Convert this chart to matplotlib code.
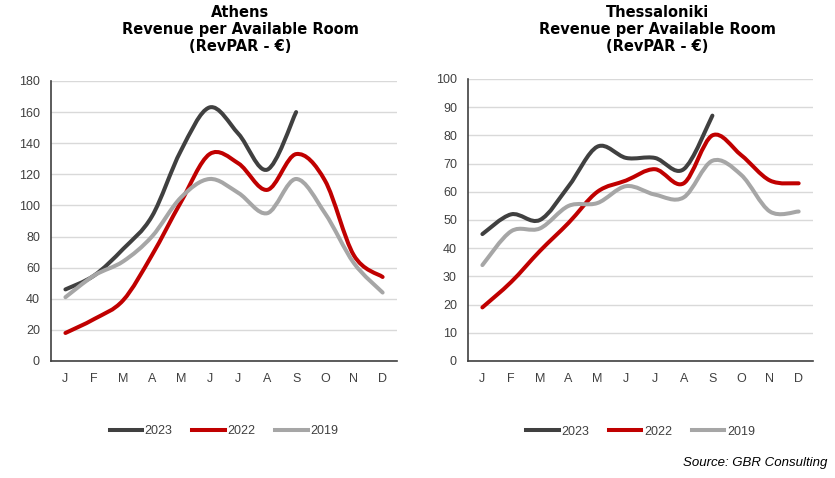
import numpy as np
import matplotlib.pyplot as plt
from matplotlib.path import Path
from matplotlib.patches import PathPatch
from matplotlib.lines import Line2D

months = ["J", "F", "M", "A", "M", "J", "J", "A", "S", "O", "N", "D"]
years = ["2023", "2022", "2019"]
colors = {"2023": "#404040", "2022": "#C00000", "2019": "#A6A6A6"}

athens_2023 = [46, 55, 72, 93, 135, 163, 146, 123, 160]
athens_2022 = [18, 27, 39, 68, 102, 133, 127, 110, 133, 116, 68, 54]
athens_2019 = [41, 55, 64, 80, 105, 117, 108, 95, 117, 95, 63, 44]

thess_2023 = [45, 52, 50, 62, 76, 72, 72, 68, 87]
thess_2022 = [19, 28, 39, 49, 60, 64, 68, 63, 80, 73, 64, 63]
thess_2019 = [34, 46, 47, 55, 56, 62, 59, 58, 71, 66, 53, 53]

plt.rcParams['font.family'] = ['Liberation Sans', 'DejaVu Sans']


def smooth_path(xs, ys):
    # Excel-style smoothed line: cubic Bezier segments through each point
    pts = np.column_stack([xs, ys]).astype(float)
    n = len(pts)
    verts = [pts[0]]
    codes = [Path.MOVETO]
    for i in range(n - 1):
        p0 = pts[i - 1] if i > 0 else pts[i]
        p1, p2 = pts[i], pts[i + 1]
        p3 = pts[i + 2] if i + 2 < n else pts[i + 1]
        c1 = p1 + (p2 - p0) / 6
        c2 = p2 - (p3 - p1) / 6
        verts += [c1, c2, p2]
        codes += [Path.CURVE4] * 3
    return Path(verts, codes)


def draw_panel(ax, series, ymax, step):
    for year, vals in zip(years, series):
        x = np.arange(len(vals))
        ax.add_patch(PathPatch(smooth_path(x, vals), fill=False, edgecolor=colors[year],
                               lw=2.9, capstyle='round', joinstyle='round', zorder=3))
    ax.set_xlim(-0.5, 11.5)
    ax.set_ylim(0, ymax)
    ax.set_yticks(np.arange(0, ymax + 1, step))
    ax.set_xticks(range(12))
    ax.set_xticklabels(months)
    ax.yaxis.grid(True, color="#D9D9D9", lw=1)
    ax.set_axisbelow(True)
    for s in ["top", "right"]:
        ax.spines[s].set_visible(False)
    for s in ["left", "bottom"]:
        ax.spines[s].set_color("#404040")
        ax.spines[s].set_linewidth(1.2)
    ax.tick_params(length=0, labelsize=9, colors="#404040", pad=8)
    ax.tick_params(axis="x", pad=9)
    handles = [Line2D([], [], color=colors[y], lw=2.9) for y in years]
    ax.legend(handles, years, loc="upper center", bbox_to_anchor=(0.5, -0.19), ncol=3,
              frameon=False, fontsize=9, handlelength=2.6, handletextpad=0.2,
              columnspacing=1.6, labelcolor="#404040")


fig = plt.figure(figsize=(8.35, 4.78), dpi=100)
ax1 = fig.add_axes([0.0611, 0.2448, 0.4144, 0.5858])
ax2 = fig.add_axes([0.5605, 0.2448, 0.4132, 0.5900])

draw_panel(ax1, [athens_2023, athens_2022, athens_2019], 180, 20)
draw_panel(ax2, [thess_2023, thess_2022, thess_2019], 100, 10)

title_kw = dict(ha="center", va="top", fontsize=10.5, fontweight="bold",
                family="DejaVu Sans", linespacing=1.18)
fig.text(240 / 835, 1 - 5 / 478, "Athens\nRevenue per Available Room\n(RevPAR - €)", **title_kw)
fig.text(657 / 835, 1 - 5 / 478, "Thessaloniki\nRevenue per Available Room\n(RevPAR - €)", **title_kw)

fig.text(827 / 835, 1 - 463 / 478, "Source: GBR Consulting", ha="right", va="center",
         fontsize=9.5, style="italic", color="#000000")

fig.savefig("out.png", dpi=100)
